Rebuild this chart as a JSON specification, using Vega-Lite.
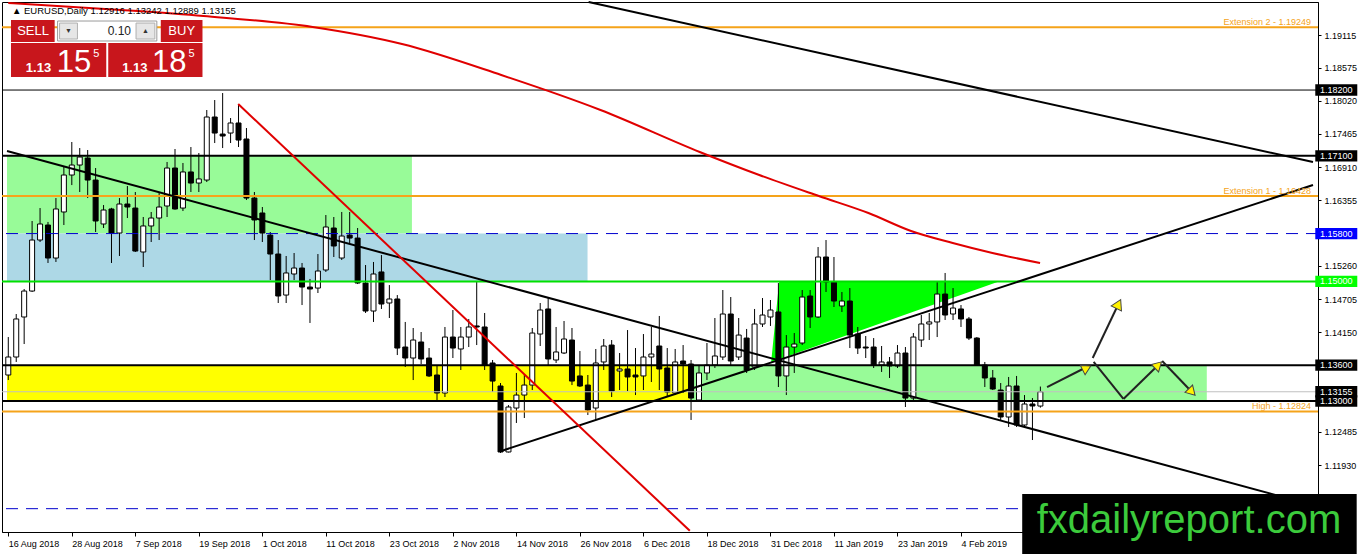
{
"$schema": "https://vega.github.io/schema/vega-lite/v6.json",
"width": 1316, "height": 530,
"autosize": "none",
"padding": {"left": 2, "top": 2, "right": 44, "bottom": 22},
"background": "white",
"config": {"view": {"stroke": "#000", "strokeWidth": 1}, "font": "Liberation Sans", "axis": {"grid": false}},
"datasets": {
"candles": [
{"k":0,"o":1.13435,"h":1.1407,"l":1.13351,"c":1.13736},
{"k":1,"o":1.13736,"h":1.14455,"l":1.13653,"c":1.14372},
{"k":2,"o":1.14405,"h":1.14873,"l":1.13953,"c":1.14839},
{"k":3,"o":1.14839,"h":1.1601,"l":1.14823,"c":1.15692},
{"k":4,"o":1.15692,"h":1.16227,"l":1.15659,"c":1.1596},
{"k":5,"o":1.15943,"h":1.15994,"l":1.15308,"c":1.15391},
{"k":6,"o":1.15391,"h":1.16394,"l":1.15325,"c":1.16211},
{"k":7,"o":1.16161,"h":1.16913,"l":1.15943,"c":1.16779},
{"k":8,"o":1.16779,"h":1.17331,"l":1.16611,"c":1.16946},
{"k":9,"o":1.16946,"h":1.1723,"l":1.16495,"c":1.1708},
{"k":10,"o":1.17063,"h":1.17197,"l":1.16394,"c":1.16695},
{"k":11,"o":1.16695,"h":1.16896,"l":1.15826,"c":1.1601},
{"k":12,"o":1.1596,"h":1.16277,"l":1.15893,"c":1.16194},
{"k":13,"o":1.16211,"h":1.1623,"l":1.15308,"c":1.15809},
{"k":14,"o":1.15809,"h":1.16394,"l":1.15425,"c":1.16294},
{"k":15,"o":1.16294,"h":1.16595,"l":1.1606,"c":1.16244},
{"k":16,"o":1.16227,"h":1.16495,"l":1.15492,"c":1.15508},
{"k":17,"o":1.15492,"h":1.16077,"l":1.15241,"c":1.15927},
{"k":18,"o":1.15927,"h":1.16161,"l":1.15659,"c":1.1606},
{"k":19,"o":1.1606,"h":1.16495,"l":1.15692,"c":1.16244},
{"k":20,"o":1.16261,"h":1.16997,"l":1.16077,"c":1.16896},
{"k":21,"o":1.16896,"h":1.17214,"l":1.162,"c":1.16211},
{"k":22,"o":1.16227,"h":1.1698,"l":1.16177,"c":1.1683},
{"k":23,"o":1.1683,"h":1.17247,"l":1.16495,"c":1.16645},
{"k":24,"o":1.16645,"h":1.17147,"l":1.16495,"c":1.16713},
{"k":25,"o":1.16695,"h":1.17866,"l":1.16662,"c":1.17749},
{"k":26,"o":1.17749,"h":1.18033,"l":1.17314,"c":1.17481},
{"k":27,"o":1.17464,"h":1.1815,"l":1.1723,"c":1.17431},
{"k":28,"o":1.17481,"h":1.17732,"l":1.17314,"c":1.17649},
{"k":29,"o":1.17649,"h":1.17949,"l":1.17247,"c":1.17364},
{"k":30,"o":1.17381,"h":1.17565,"l":1.16361,"c":1.16394},
{"k":31,"o":1.16394,"h":1.16495,"l":1.15692,"c":1.16027},
{"k":32,"o":1.16144,"h":1.16244,"l":1.15659,"c":1.15809},
{"k":33,"o":1.15775,"h":1.15826,"l":1.15023,"c":1.15458},
{"k":34,"o":1.15458,"h":1.15692,"l":1.14639,"c":1.14756},
{"k":35,"o":1.14772,"h":1.15425,"l":1.14639,"c":1.15141},
{"k":36,"o":1.15124,"h":1.15475,"l":1.15023,"c":1.15224},
{"k":37,"o":1.15224,"h":1.15308,"l":1.14605,"c":1.14906},
{"k":38,"o":1.14906,"h":1.15041,"l":1.14305,"c":1.14873},
{"k":39,"o":1.14889,"h":1.15458,"l":1.14806,"c":1.15174},
{"k":40,"o":1.15191,"h":1.1611,"l":1.15158,"c":1.1591},
{"k":41,"o":1.15893,"h":1.16077,"l":1.15408,"c":1.15592},
{"k":42,"o":1.15391,"h":1.16161,"l":1.15358,"c":1.15759},
{"k":43,"o":1.15775,"h":1.16161,"l":1.15642,"c":1.15725},
{"k":44,"o":1.15725,"h":1.15893,"l":1.14956,"c":1.14973},
{"k":45,"o":1.14973,"h":1.15274,"l":1.14472,"c":1.14505},
{"k":46,"o":1.14505,"h":1.15325,"l":1.14322,"c":1.15124},
{"k":47,"o":1.15158,"h":1.15441,"l":1.14539,"c":1.14622},
{"k":48,"o":1.14639,"h":1.14939,"l":1.14388,"c":1.14706},
{"k":49,"o":1.14706,"h":1.14772,"l":1.13769,"c":1.13886},
{"k":50,"o":1.13903,"h":1.14322,"l":1.13569,"c":1.13719},
{"k":51,"o":1.13719,"h":1.14221,"l":1.13351,"c":1.1402},
{"k":52,"o":1.13987,"h":1.14154,"l":1.13619,"c":1.13703},
{"k":53,"o":1.13719,"h":1.13886,"l":1.13402,"c":1.13419},
{"k":54,"o":1.13435,"h":1.13586,"l":1.13,"c":1.13134},
{"k":55,"o":1.13134,"h":1.14238,"l":1.13067,"c":1.1407},
{"k":56,"o":1.1407,"h":1.14522,"l":1.13719,"c":1.13886},
{"k":57,"o":1.1387,"h":1.14238,"l":1.13519,"c":1.1407},
{"k":58,"o":1.1407,"h":1.14372,"l":1.13903,"c":1.14238},
{"k":59,"o":1.14255,"h":1.1499,"l":1.13936,"c":1.14238},
{"k":60,"o":1.14238,"h":1.14472,"l":1.13519,"c":1.13602},
{"k":61,"o":1.13636,"h":1.13686,"l":1.13151,"c":1.13334},
{"k":62,"o":1.13251,"h":1.13301,"l":1.12131,"c":1.12148},
{"k":63,"o":1.12148,"h":1.12933,"l":1.1214,"c":1.129},
{"k":64,"o":1.12883,"h":1.13469,"l":1.12633,"c":1.131},
{"k":65,"o":1.131,"h":1.13435,"l":1.12716,"c":1.13267},
{"k":66,"o":1.13267,"h":1.14221,"l":1.13184,"c":1.14137},
{"k":67,"o":1.1412,"h":1.14639,"l":1.1392,"c":1.14522},
{"k":68,"o":1.14539,"h":1.14722,"l":1.13586,"c":1.13703},
{"k":69,"o":1.13686,"h":1.14238,"l":1.13636,"c":1.1382},
{"k":70,"o":1.13803,"h":1.14338,"l":1.13786,"c":1.14037},
{"k":71,"o":1.1402,"h":1.14221,"l":1.13267,"c":1.13334},
{"k":72,"o":1.13419,"h":1.13836,"l":1.13234,"c":1.13251},
{"k":73,"o":1.13267,"h":1.13435,"l":1.12766,"c":1.1285},
{"k":74,"o":1.12883,"h":1.1387,"l":1.12683,"c":1.13636},
{"k":75,"o":1.13653,"h":1.14037,"l":1.13519,"c":1.1392},
{"k":76,"o":1.13936,"h":1.1402,"l":1.13067,"c":1.13167},
{"k":77,"o":1.13502,"h":1.13803,"l":1.13184,"c":1.13536},
{"k":78,"o":1.13536,"h":1.14187,"l":1.13167,"c":1.13402},
{"k":79,"o":1.13435,"h":1.13886,"l":1.131,"c":1.13402},
{"k":80,"o":1.13419,"h":1.1412,"l":1.13184,"c":1.13736},
{"k":81,"o":1.13736,"h":1.14238,"l":1.13318,"c":1.13786},
{"k":82,"o":1.1392,"h":1.14422,"l":1.13184,"c":1.13536},
{"k":83,"o":1.13552,"h":1.13886,"l":1.13067,"c":1.13151},
{"k":84,"o":1.13134,"h":1.1387,"l":1.131,"c":1.13653},
{"k":85,"o":1.13669,"h":1.13936,"l":1.13134,"c":1.13619},
{"k":86,"o":1.13619,"h":1.13686,"l":1.12683,"c":1.1305},
{"k":87,"o":1.13017,"h":1.13602,"l":1.13,"c":1.13469},
{"k":88,"o":1.13469,"h":1.1397,"l":1.13351,"c":1.13602},
{"k":89,"o":1.13602,"h":1.14388,"l":1.13552,"c":1.13753},
{"k":90,"o":1.13736,"h":1.14856,"l":1.13686,"c":1.14455},
{"k":91,"o":1.14455,"h":1.14739,"l":1.13586,"c":1.13669},
{"k":92,"o":1.13736,"h":1.14388,"l":1.13686,"c":1.14103},
{"k":93,"o":1.14053,"h":1.14205,"l":1.13469,"c":1.13519},
{"k":94,"o":1.13569,"h":1.14539,"l":1.13519,"c":1.14288},
{"k":95,"o":1.14288,"h":1.14722,"l":1.14238,"c":1.14438},
{"k":96,"o":1.14405,"h":1.14689,"l":1.14255,"c":1.14522},
{"k":97,"o":1.14489,"h":1.14973,"l":1.13234,"c":1.13419},
{"k":98,"o":1.13419,"h":1.14103,"l":1.131,"c":1.13903},
{"k":99,"o":1.13903,"h":1.14137,"l":1.13469,"c":1.13953},
{"k":100,"o":1.1397,"h":1.14856,"l":1.13936,"c":1.14739},
{"k":101,"o":1.14756,"h":1.14856,"l":1.14221,"c":1.14405},
{"k":102,"o":1.14405,"h":1.15575,"l":1.14388,"c":1.15408},
{"k":103,"o":1.15408,"h":1.15692,"l":1.14823,"c":1.1499},
{"k":104,"o":1.1499,"h":1.15408,"l":1.14572,"c":1.14672},
{"k":105,"o":1.14589,"h":1.14823,"l":1.14489,"c":1.14672},
{"k":106,"o":1.14672,"h":1.14889,"l":1.13886,"c":1.14103},
{"k":107,"o":1.1412,"h":1.14238,"l":1.13786,"c":1.13886},
{"k":108,"o":1.13903,"h":1.14087,"l":1.13719,"c":1.13886},
{"k":109,"o":1.13903,"h":1.14053,"l":1.13552,"c":1.13602},
{"k":110,"o":1.13602,"h":1.1392,"l":1.13486,"c":1.13653},
{"k":111,"o":1.13653,"h":1.13736,"l":1.13385,"c":1.13586},
{"k":112,"o":1.13586,"h":1.13936,"l":1.13552,"c":1.13803},
{"k":113,"o":1.13803,"h":1.13903,"l":1.129,"c":1.1305},
{"k":114,"o":1.1305,"h":1.14137,"l":1.13017,"c":1.1407},
{"k":115,"o":1.1402,"h":1.14438,"l":1.13903,"c":1.14288},
{"k":116,"o":1.14288,"h":1.14472,"l":1.1402,"c":1.14322},
{"k":117,"o":1.14322,"h":1.1499,"l":1.1407,"c":1.14789},
{"k":118,"o":1.14789,"h":1.15141,"l":1.14355,"c":1.14438},
{"k":119,"o":1.14455,"h":1.14889,"l":1.14355,"c":1.14555},
{"k":120,"o":1.14539,"h":1.14605,"l":1.14238,"c":1.14372},
{"k":121,"o":1.14372,"h":1.14405,"l":1.1402,"c":1.14053},
{"k":122,"o":1.14053,"h":1.1407,"l":1.13586,"c":1.13602},
{"k":123,"o":1.13602,"h":1.13653,"l":1.13234,"c":1.13385},
{"k":124,"o":1.13385,"h":1.13519,"l":1.13184,"c":1.13201},
{"k":125,"o":1.13184,"h":1.13301,"l":1.12683,"c":1.12733},
{"k":126,"o":1.12733,"h":1.13402,"l":1.12566,"c":1.13251},
{"k":127,"o":1.13251,"h":1.13419,"l":1.12566,"c":1.12599},
{"k":128,"o":1.12599,"h":1.131,"l":1.12549,"c":1.1295},
{"k":129,"o":1.1295,"h":1.1305,"l":1.12348,"c":1.12917},
{"k":130,"o":1.12916,"h":1.13242,"l":1.12889,"c":1.13155}
]
},
"layer": [
{"data": {"values": [
 {"z":"g","k":-0.1625,"k2":50.84,"p":1.171,"p2":1.158},
 {"z":"b","k":-0.1625,"k2":72.96,"p":1.158,"p2":1.15},
 {"z":"y","k":-0.1625,"k2":85.84,"p":1.136,"p2":1.13},
 {"z":"g2","k":85.84,"k2":150.96,"p":1.136,"p2":1.13}]},
 "mark": {"type": "rect"},
 "encoding": {
  "x": {"field":"k","type":"quantitative","scale":{"domain":[-0.1625,164.3375],"nice":false,"zero":false}},
  "x2": {"field":"k2"},
  "y": {"field":"p","type":"quantitative","scale":{"domain":[1.1081,1.19672],"nice":false,"zero":false}},
  "y2": {"field":"p2"},
  "color": {"field":"z","type":"nominal","scale":{"domain":["g","b","y","g2"],"range":["#98FB98","#ADD8E6","#FFFF00","#98FB98"]},"legend":null}
 }},
{"data": {"values": [{"k":96.09,"p":1.13653,"p2":1.13653},{"k":97.09,"p":1.1499,"p2":1.137},{"k":124.59,"p":1.1499,"p2":1.1499}]},
 "mark": {"type":"area","color":"#00FF00","orient":"vertical"},
 "encoding": {
  "x": {"field":"k","type":"quantitative","scale":{"domain":[-0.1625,164.3375],"nice":false,"zero":false}},
  "y": {"field":"p","type":"quantitative","scale":{"domain":[1.1081,1.19672],"nice":false,"zero":false}},
  "y2": {"field":"p2"}
 }},
{"data": {"name": "candles"},
 "mark": {"type":"rule","color":"#000","strokeWidth":1},
 "encoding": {
  "x": {"field":"k","type":"quantitative","scale":{"domain":[-0.1625,164.3375],"nice":false,"zero":false},
   "axis":{"title":null,"values":[0,8,16,24,32,40,48,56,64,72,80,88,96,104,112,120],
    "labelExpr":"['16 Aug 2018','28 Aug 2018','7 Sep 2018','19 Sep 2018','1 Oct 2018','11 Oct 2018','23 Oct 2018','2 Nov 2018','14 Nov 2018','26 Nov 2018','6 Dec 2018','18 Dec 2018','31 Dec 2018','11 Jan 2019','23 Jan 2019','4 Feb 2019'][round(datum.value/8)]",
    "labelAlign":"left","labelBaseline":"top","labelFont":"Liberation Sans","labelFontSize":9,"labelColor":"#000","labelPadding":3,"labelDx":-2,
    "tickColor":"#000","tickSize":4,"domainColor":"#000","grid":false,"labelOverlap":false,"labelFlush":false}},
  "y": {"field":"l","type":"quantitative","scale":{"domain":[1.1081,1.19672],"nice":false,"zero":false},
   "axis":{"orient":"right","title":null,"values":[1.19115,1.18575,1.1802,1.17465,1.1691,1.16355,1.1526,1.14705,1.1415,1.12485,1.1193],
    "format":".5f","labelFont":"Liberation Sans","labelFontSize":9,"labelColor":"#000","labelPadding":3,"tickColor":"#000","tickSize":3,
    "domainColor":"#000","grid":false,"labelOverlap":false,"labelFlush":false}},
  "y2": {"field":"h"}
 }},
{"data": {"name": "candles"},
 "mark": {"type":"bar","width":5,"stroke":"#000","strokeWidth":1},
 "encoding": {
  "x": {"field":"k","type":"quantitative","scale":{"domain":[-0.1625,164.3375],"nice":false,"zero":false}},
  "y": {"field":"o","type":"quantitative","scale":{"domain":[1.1081,1.19672],"nice":false,"zero":false}},
  "y2": {"field":"c"},
  "fill": {"condition": {"test":"datum.c >= datum.o","value":"#FFFFFF"},"value":"#000000"}
 }},
{"data": {"values": [{"p":1.13155}]},
 "mark": {"type":"rule","color":"#C0C0C0","strokeWidth":1},
 "encoding": {"y": {"field":"p","type":"quantitative","scale":{"domain":[1.1081,1.19672],"nice":false,"zero":false}}}},
{"data": {"values": [{"p":1.19249},{"p":1.16428},{"p":1.12824}]},
 "mark": {"type":"rule","color":"#F5A31A","strokeWidth":2},
 "encoding": {"y": {"field":"p","type":"quantitative","scale":{"domain":[1.1081,1.19672],"nice":false,"zero":false}}}},
{"data": {"values": [{"p":1.182}]},
 "mark": {"type":"rule","color":"#000","strokeWidth":1},
 "encoding": {"y": {"field":"p","type":"quantitative","scale":{"domain":[1.1081,1.19672],"nice":false,"zero":false}}}},
{"data": {"values": [{"p":1.171},{"p":1.136},{"p":1.13}]},
 "mark": {"type":"rule","color":"#000","strokeWidth":2},
 "encoding": {"y": {"field":"p","type":"quantitative","scale":{"domain":[1.1081,1.19672],"nice":false,"zero":false}}}},
{"data": {"values": [{"p":1.158},{"p":1.112}]},
 "mark": {"type":"rule","color":"#0000CD","strokeWidth":1,"strokeDash":[12,8]},
 "encoding": {"y": {"field":"p","type":"quantitative","scale":{"domain":[1.1081,1.19672],"nice":false,"zero":false}}}},
{"data": {"values": [{"p":1.15}]},
 "mark": {"type":"rule","color":"#00E000","strokeWidth":2},
 "encoding": {"y": {"field":"p","type":"quantitative","scale":{"domain":[1.1081,1.19672],"nice":false,"zero":false}}}},
{"data": {"values": [
 {"k":-0.1625,"p":1.1718,"k2":159.59,"p2":1.11429},
 {"k":73.09,"p":1.19672,"k2":164.3375,"p2":1.16996},
 {"k":62.09,"p":1.12164,"k2":164.3375,"p2":1.16612}]},
 "mark": {"type":"rule","color":"#000","strokeWidth":2},
 "encoding": {
  "x": {"field":"k","type":"quantitative","scale":{"domain":[-0.1625,164.3375],"nice":false,"zero":false}},
  "x2": {"field":"k2"},
  "y": {"field":"p","type":"quantitative","scale":{"domain":[1.1081,1.19672],"nice":false,"zero":false}},
  "y2": {"field":"p2"}
 }},
{"data": {"values": [{"k":28.96,"p":1.17966,"k2":85.84,"p2":1.1083}]},
 "mark": {"type":"rule","color":"#E00000","strokeWidth":2},
 "encoding": {
  "x": {"field":"k","type":"quantitative","scale":{"domain":[-0.1625,164.3375],"nice":false,"zero":false}},
  "x2": {"field":"k2"},
  "y": {"field":"p","type":"quantitative","scale":{"domain":[1.1081,1.19672],"nice":false,"zero":false}},
  "y2": {"field":"p2"}
 }},
{"data": {"values": [
 {"k":0,"p":1.19655},{"k":14.21,"p":1.19538},{"k":24.59,"p":1.19437},{"k":38.34,"p":1.19254},{"k":49.59,"p":1.18969},
 {"k":62.09,"p":1.18451},{"k":74.59,"p":1.17866},{"k":87.09,"p":1.17164},{"k":94.59,"p":1.16779},{"k":102.09,"p":1.16428},
 {"k":108.34,"p":1.16144},{"k":113.71,"p":1.15843},{"k":118.96,"p":1.15642},{"k":123.96,"p":1.15475},{"k":129.96,"p":1.15308}]},
 "mark": {"type":"line","color":"#E00000","strokeWidth":2,"interpolate":"monotone"},
 "encoding": {
  "x": {"field":"k","type":"quantitative","scale":{"domain":[-0.1625,164.3375],"nice":false,"zero":false}},
  "y": {"field":"p","type":"quantitative","scale":{"domain":[1.1081,1.19672],"nice":false,"zero":false}}
 }},
{"data": {"values": [
 {"k":130.84,"p":1.13234,"k2":135.59,"p2":1.13552},
 {"k":136.59,"p":1.13719,"k2":139.71,"p2":1.14589},
 {"k":136.71,"p":1.13653,"k2":140.46,"p2":1.13034},
 {"k":140.46,"p":1.13034,"k2":144.59,"p2":1.13569},
 {"k":145.34,"p":1.13669,"k2":148.96,"p2":1.13168}]},
 "mark": {"type":"rule","color":"#222","strokeWidth":2},
 "encoding": {
  "x": {"field":"k","type":"quantitative","scale":{"domain":[-0.1625,164.3375],"nice":false,"zero":false}},
  "x2": {"field":"k2"},
  "y": {"field":"p","type":"quantitative","scale":{"domain":[1.1081,1.19672],"nice":false,"zero":false}},
  "y2": {"field":"p2"}
 }},
{"data": {"values": [{"k":135.84,"p":1.13552}]},
 "mark": {"type":"point","shape":"triangle-up","filled":true,"fill":"#FFF200","stroke":"#444","strokeWidth":1,"size":110,"angle":63,"opacity":1},
 "encoding": {
  "x": {"field":"k","type":"quantitative","scale":{"domain":[-0.1625,164.3375],"nice":false,"zero":false}},
  "y": {"field":"p","type":"quantitative","scale":{"domain":[1.1081,1.19672],"nice":false,"zero":false}}
 }},
{"data": {"values": [{"k":139.84,"p":1.14622}]},
 "mark": {"type":"point","shape":"triangle-up","filled":true,"fill":"#FFF200","stroke":"#444","strokeWidth":1,"size":130,"angle":26,"opacity":1},
 "encoding": {
  "x": {"field":"k","type":"quantitative","scale":{"domain":[-0.1625,164.3375],"nice":false,"zero":false}},
  "y": {"field":"p","type":"quantitative","scale":{"domain":[1.1081,1.19672],"nice":false,"zero":false}}
 }},
{"data": {"values": [{"k":144.84,"p":1.13602}]},
 "mark": {"type":"point","shape":"triangle-up","filled":true,"fill":"#FFF200","stroke":"#444","strokeWidth":1,"size":110,"angle":46,"opacity":1},
 "encoding": {
  "x": {"field":"k","type":"quantitative","scale":{"domain":[-0.1625,164.3375],"nice":false,"zero":false}},
  "y": {"field":"p","type":"quantitative","scale":{"domain":[1.1081,1.19672],"nice":false,"zero":false}}
 }},
{"data": {"values": [{"k":149.09,"p":1.13151}]},
 "mark": {"type":"point","shape":"triangle-up","filled":true,"fill":"#FFF200","stroke":"#444","strokeWidth":1,"size":110,"angle":136,"opacity":1},
 "encoding": {
  "x": {"field":"k","type":"quantitative","scale":{"domain":[-0.1625,164.3375],"nice":false,"zero":false}},
  "y": {"field":"p","type":"quantitative","scale":{"domain":[1.1081,1.19672],"nice":false,"zero":false}}
 }},
{"data": {"values": [
 {"k":164.09,"p":1.19337,"t":"Extension 2 - 1.19249"},
 {"k":164.09,"p":1.16516,"t":"Extension 1 - 1.16428"},
 {"k":164.09,"p":1.12922,"t":"High - 1.12824"}]},
 "mark": {"type":"text","align":"right","baseline":"middle","color":"#F5A31A","fontSize":9,"font":"Liberation Sans"},
 "encoding": {
  "x": {"field":"k","type":"quantitative","scale":{"domain":[-0.1625,164.3375],"nice":false,"zero":false}},
  "y": {"field":"p","type":"quantitative","scale":{"domain":[1.1081,1.19672],"nice":false,"zero":false}},
  "text": {"field":"t"}
 }},
{"data": {"values": [{"p":1.182},{"p":1.171},{"p":1.136},{"p":1.13155},{"p":1.13}]},
 "mark": {"type":"point","shape":"M-1,-0.27H1V0.27H-1Z","filled":true,"color":"#000","size":1764,"opacity":1},
 "encoding": {
  "x": {"datum":167.27,"type":"quantitative","scale":{"domain":[-0.1625,164.3375],"nice":false,"zero":false}},
  "y": {"field":"p","type":"quantitative","scale":{"domain":[1.1081,1.19672],"nice":false,"zero":false}}
 }},
{"data": {"values": [{"p":1.158}]},
 "mark": {"type":"point","shape":"M-1,-0.27H1V0.27H-1Z","filled":true,"color":"#0000FF","size":1764,"opacity":1},
 "encoding": {
  "x": {"datum":167.27,"type":"quantitative","scale":{"domain":[-0.1625,164.3375],"nice":false,"zero":false}},
  "y": {"field":"p","type":"quantitative","scale":{"domain":[1.1081,1.19672],"nice":false,"zero":false}}
 }},
{"data": {"values": [{"p":1.15}]},
 "mark": {"type":"point","shape":"M-1,-0.27H1V0.27H-1Z","filled":true,"color":"#00FF00","size":1764,"opacity":1},
 "encoding": {
  "x": {"datum":167.27,"type":"quantitative","scale":{"domain":[-0.1625,164.3375],"nice":false,"zero":false}},
  "y": {"field":"p","type":"quantitative","scale":{"domain":[1.1081,1.19672],"nice":false,"zero":false}}
 }},
{"data": {"values": [{"p":1.182},{"p":1.171},{"p":1.158},{"p":1.15},{"p":1.136},{"p":1.13155},{"p":1.13}]},
 "mark": {"type":"text","align":"center","baseline":"middle","color":"#FFFFFF","fontSize":9,"font":"Liberation Sans"},
 "encoding": {
  "x": {"datum":167.27,"type":"quantitative","scale":{"domain":[-0.1625,164.3375],"nice":false,"zero":false}},
  "y": {"field":"p","type":"quantitative","scale":{"domain":[1.1081,1.19672],"nice":false,"zero":false}},
  "text": {"field":"p","type":"quantitative","format":".5f"}
 }},
{"data": {"values": [{"k":0.46,"p":1.19521,"t":"▲ EURUSD,Daily  1.12916 1.13242 1.12889 1.13155"}]},
 "mark": {"type":"text","align":"left","baseline":"middle","color":"#000","fontSize":9.5,"font":"Liberation Sans"},
 "encoding": {
  "x": {"field":"k","type":"quantitative","scale":{"domain":[-0.1625,164.3375],"nice":false,"zero":false}},
  "y": {"field":"p","type":"quantitative","scale":{"domain":[1.1081,1.19672],"nice":false,"zero":false}},
  "text": {"field":"t"}
 }},
{"data": {"values": [
 {"k":0.34,"k2":5.84,"p":1.19371,"p2":1.19003},
 {"k":19.21,"k2":24.46,"p":1.19371,"p2":1.19003},
 {"k":0.34,"k2":12.34,"p":1.18986,"p2":1.18418},
 {"k":12.59,"k2":24.46,"p":1.18986,"p2":1.18418}]},
 "mark": {"type":"rect","color":"#C8161C"},
 "encoding": {
  "x": {"field":"k","type":"quantitative","scale":{"domain":[-0.1625,164.3375],"nice":false,"zero":false}},
  "x2": {"field":"k2"},
  "y": {"field":"p","type":"quantitative","scale":{"domain":[1.1081,1.19672],"nice":false,"zero":false}},
  "y2": {"field":"p2"}
 }},
{"data": {"values": [{"k":6.21,"k2":18.71,"p":1.19354,"p2":1.1902}]},
 "mark": {"type":"rect","fill":"#FFFFFF","stroke":"#9A9A9A","strokeWidth":1},
 "encoding": {
  "x": {"field":"k","type":"quantitative","scale":{"domain":[-0.1625,164.3375],"nice":false,"zero":false}},
  "x2": {"field":"k2"},
  "y": {"field":"p","type":"quantitative","scale":{"domain":[1.1081,1.19672],"nice":false,"zero":false}},
  "y2": {"field":"p2"}
 }},
{"data": {"values": [{"k":6.46,"k2":8.71,"p":1.1932,"p2":1.19053},{"k":16.09,"k2":18.46,"p":1.1932,"p2":1.19053}]},
 "mark": {"type":"rect","fill":"#E6E6E6","stroke":"#B0B0B0","strokeWidth":1},
 "encoding": {
  "x": {"field":"k","type":"quantitative","scale":{"domain":[-0.1625,164.3375],"nice":false,"zero":false}},
  "x2": {"field":"k2"},
  "y": {"field":"p","type":"quantitative","scale":{"domain":[1.1081,1.19672],"nice":false,"zero":false}},
  "y2": {"field":"p2"}
 }},
{"data": {"values": [{"k":7.59,"p":1.19192,"t":"▼"},{"k":17.27,"p":1.19192,"t":"▲"}]},
 "mark": {"type":"text","align":"center","baseline":"middle","color":"#333","fontSize":7},
 "encoding": {
  "x": {"field":"k","type":"quantitative","scale":{"domain":[-0.1625,164.3375],"nice":false,"zero":false}},
  "y": {"field":"p","type":"quantitative","scale":{"domain":[1.1081,1.19672],"nice":false,"zero":false}},
  "text": {"field":"t"}
 }},
{"data": {"values": [{"k":15.46,"p":1.19192,"t":"0.10"}]},
 "mark": {"type":"text","align":"right","baseline":"middle","color":"#222","fontSize":12,"font":"Liberation Sans"},
 "encoding": {
  "x": {"field":"k","type":"quantitative","scale":{"domain":[-0.1625,164.3375],"nice":false,"zero":false}},
  "y": {"field":"p","type":"quantitative","scale":{"domain":[1.1081,1.19672],"nice":false,"zero":false}},
  "text": {"field":"t"}
 }},
{"data": {"values": [{"k":3.12,"p":1.19192,"t":"SELL"},{"k":21.84,"p":1.19192,"t":"BUY"}]},
 "mark": {"type":"text","align":"center","baseline":"middle","color":"#FFFFFF","fontSize":13,"font":"Liberation Sans Narrow, Liberation Sans"},
 "encoding": {
  "x": {"field":"k","type":"quantitative","scale":{"domain":[-0.1625,164.3375],"nice":false,"zero":false}},
  "y": {"field":"p","type":"quantitative","scale":{"domain":[1.1081,1.19672],"nice":false,"zero":false}},
  "text": {"field":"t"}
 }},
{"data": {"values": [{"k":2.21,"p":1.18501,"t":"1.13"},{"k":14.34,"p":1.18501,"t":"1.13"}]},
 "mark": {"type":"text","align":"left","baseline":"alphabetic","color":"#FFFFFF","fontSize":13,"fontWeight":"bold","font":"Liberation Sans Narrow, Liberation Sans"},
 "encoding": {
  "x": {"field":"k","type":"quantitative","scale":{"domain":[-0.1625,164.3375],"nice":false,"zero":false}},
  "y": {"field":"p","type":"quantitative","scale":{"domain":[1.1081,1.19672],"nice":false,"zero":false}},
  "text": {"field":"t"}
 }},
{"data": {"values": [{"k":6.09,"p":1.18501,"t":"15"},{"k":18.09,"p":1.18501,"t":"18"}]},
 "mark": {"type":"text","align":"left","baseline":"alphabetic","color":"#FFFFFF","fontSize":31,"font":"Liberation Sans Narrow, Liberation Sans"},
 "encoding": {
  "x": {"field":"k","type":"quantitative","scale":{"domain":[-0.1625,164.3375],"nice":false,"zero":false}},
  "y": {"field":"p","type":"quantitative","scale":{"domain":[1.1081,1.19672],"nice":false,"zero":false}},
  "text": {"field":"t"}
 }},
{"data": {"values": [{"k":10.71,"p":1.18752,"t":"5"},{"k":22.71,"p":1.18752,"t":"5"}]},
 "mark": {"type":"text","align":"left","baseline":"alphabetic","color":"#FFFFFF","fontSize":11,"font":"Liberation Sans Narrow, Liberation Sans"},
 "encoding": {
  "x": {"field":"k","type":"quantitative","scale":{"domain":[-0.1625,164.3375],"nice":false,"zero":false}},
  "y": {"field":"p","type":"quantitative","scale":{"domain":[1.1081,1.19672],"nice":false,"zero":false}},
  "text": {"field":"t"}
 }},
{"data": {"values": [{"k":127.71,"k2":169.84,"p":1.11445,"p2":1.10442}]},
 "mark": {"type":"rect","color":"#000000"},
 "encoding": {
  "x": {"field":"k","type":"quantitative","scale":{"domain":[-0.1625,164.3375],"nice":false,"zero":false}},
  "x2": {"field":"k2"},
  "y": {"field":"p","type":"quantitative","scale":{"domain":[1.1081,1.19672],"nice":false,"zero":false}},
  "y2": {"field":"p2"}
 }},
{"data": {"values": [{"k":148.71,"p":1.10994,"t":"fxdailyreport.com"}]},
 "mark": {"type":"text","align":"center","baseline":"middle","color":"#3CCB3C","fontSize":40,"font":"Liberation Sans"},
 "encoding": {
  "x": {"field":"k","type":"quantitative","scale":{"domain":[-0.1625,164.3375],"nice":false,"zero":false}},
  "y": {"field":"p","type":"quantitative","scale":{"domain":[1.1081,1.19672],"nice":false,"zero":false}},
  "text": {"field":"t"}
 }}
]
}
